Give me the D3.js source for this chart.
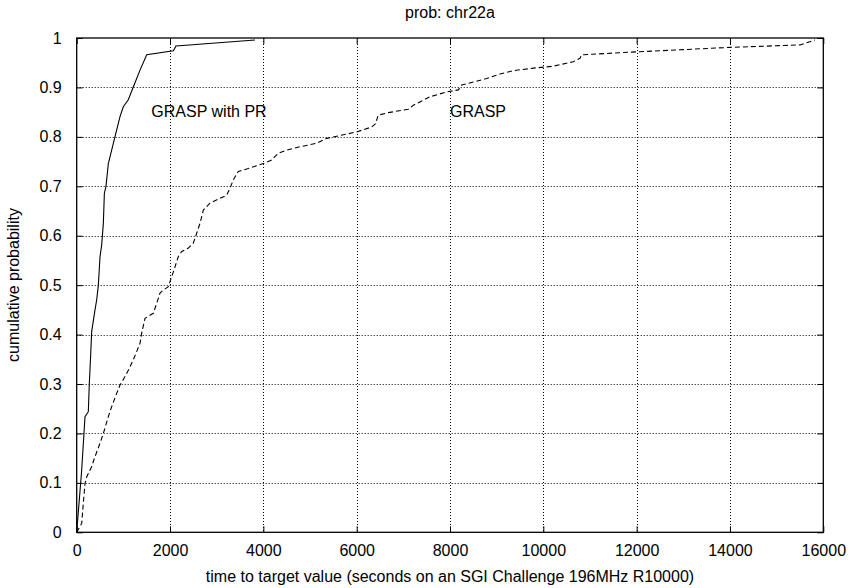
<!DOCTYPE html>
<html>
<head>
<meta charset="utf-8">
<script src="https://cdn.jsdelivr.net/npm/d3@7"></script>
<style>
  html, body { margin: 0; padding: 0; background: #fff; }
  svg { display: block; }
  text { font-family: "Liberation Sans", Arial, Helvetica, sans-serif; font-size: 16px; fill: #000; }
</style>
</head>
<body>
<svg id="chart" width="849" height="588"></svg>
<script>
// Run-time distributions (time to target, cumulative probability)
const prTimes = [0, 107, 178, 249, 270, 300, 321, 392, 428, 464, 499, 535, 571, 593, 628, 678, 785, 857, 928, 999, 1106, 1213, 1357, 1500, 2071, 2128, 3821];
const prProbs = [0, 0.126, 0.234, 0.244, 0.30, 0.36, 0.406, 0.45, 0.47, 0.50, 0.557, 0.581, 0.625, 0.686, 0.700, 0.746, 0.787, 0.814, 0.841, 0.861, 0.875, 0.901, 0.935, 0.966, 0.974, 0.984, 0.996];

const graspTimes = [0, 107, 142, 178, 214, 321, 392, 499, 571, 678, 749, 857, 928, 1035, 1106, 1213, 1356, 1393, 1464, 1642, 1714, 1785, 1856, 1963, 2035, 2107, 2178, 2250, 2392, 2499, 2571, 2642, 2714, 2856, 3213, 3285, 3356, 3463, 3678, 3999, 4178, 4320, 4499, 4785, 5143, 5357, 6000, 6321, 6400, 6464, 6678, 7107, 7214, 7571, 7928, 8178, 8250, 8500, 8785, 9071, 9357, 9785, 10213, 10499, 10642, 10785, 10820, 12000, 14000, 15500, 15820];
const graspProbs = [0, 0.018, 0.059, 0.099, 0.112, 0.133, 0.153, 0.18, 0.2, 0.234, 0.254, 0.281, 0.298, 0.315, 0.328, 0.349, 0.382, 0.403, 0.433, 0.443, 0.463, 0.484, 0.49, 0.497, 0.517, 0.537, 0.558, 0.568, 0.575, 0.585, 0.605, 0.625, 0.652, 0.666, 0.682, 0.696, 0.713, 0.73, 0.736, 0.746, 0.753, 0.767, 0.773, 0.78, 0.787, 0.797, 0.81, 0.82, 0.826, 0.844, 0.849, 0.856, 0.864, 0.881, 0.891, 0.895, 0.905, 0.911, 0.918, 0.927, 0.934, 0.939, 0.943, 0.949, 0.952, 0.959, 0.966, 0.972, 0.981, 0.986, 0.996];

const xTicks = [0, 2000, 4000, 6000, 8000, 10000, 12000, 14000, 16000];
const yTicks = [0, 0.1, 0.2, 0.3, 0.4, 0.5, 0.6, 0.7, 0.8, 0.9, 1];

const titleText = "prob: chr22a";
const xLabel = "time to target value (seconds on an SGI Challenge 196MHz R10000)";
const yLabel = "cumulative probability";
const seriesLabels = [
  { text: "GRASP with PR", t: 1600, p: 0.84 },
  { text: "GRASP", t: 8000, p: 0.84 }
];

const svg = d3.select("#chart");
const plotLeft = 76.7, plotRight = 823.3, plotTop = 38, plotBottom = 532.3;

const x = d3.scaleLinear().domain([0, 16000]).range([plotLeft, plotRight]);
const y = d3.scaleLinear().domain([0, 1]).range([plotBottom, plotTop]);

// dotted grid
const grid = svg.append("g").attr("stroke", "#000").attr("stroke-width", 1)
  .attr("stroke-dasharray", "1,2").attr("fill", "none");
xTicks.slice(1, -1).forEach(v => {
  grid.append("line").attr("x1", Math.round(x(v)) + 0.5).attr("x2", Math.round(x(v)) + 0.5)
    .attr("y1", plotTop).attr("y2", plotBottom);
});
yTicks.slice(1, -1).forEach(v => {
  grid.append("line").attr("x1", plotLeft).attr("x2", plotRight)
    .attr("y1", Math.round(y(v)) + 0.5).attr("y2", Math.round(y(v)) + 0.5);
});

// axes with inward ticks, mirrored on opposite sides
const tickLen = 6;
const xAxisB = d3.axisBottom(x).tickValues(xTicks).tickSize(-tickLen).tickPadding(tickLen + 6).tickFormat(d3.format("d"));
const xAxisT = d3.axisTop(x).tickValues(xTicks).tickSize(-tickLen).tickFormat("");
const yAxisL = d3.axisLeft(y).tickValues(yTicks).tickSize(-tickLen).tickPadding(tickLen + 9).tickFormat(d => d3.format("")(d));
const yAxisR = d3.axisRight(y).tickValues(yTicks).tickSize(-tickLen).tickFormat("");

function styleAxis(g) {
  g.select(".domain").remove();
  g.selectAll(".tick line").attr("stroke", "#000").attr("stroke-width", 1);
  g.selectAll(".tick text").style("font-family", "'Liberation Sans', Arial, sans-serif").style("font-size", "16px").attr("fill", "#000");
}

svg.append("g").attr("transform", `translate(0,${plotBottom})`).call(xAxisB).call(styleAxis)
  .selectAll(".tick text").attr("dy", "0.71em");
svg.append("g").attr("transform", `translate(0,${plotTop})`).call(xAxisT).call(styleAxis);
svg.append("g").attr("transform", `translate(${plotLeft},0)`).call(yAxisL).call(styleAxis);
svg.append("g").attr("transform", `translate(${plotRight},0)`).call(yAxisR).call(styleAxis);

// frame
svg.append("rect").attr("x", plotLeft).attr("y", plotTop).attr("width", plotRight - plotLeft).attr("height", plotBottom - plotTop)
  .attr("fill", "none").attr("stroke", "#000").attr("stroke-width", 1.3);

// curves
const line = d3.line().x(d => x(d[0])).y(d => y(d[1]));
const prData = d3.zip(prTimes, prProbs);
const graspData = d3.zip(graspTimes, graspProbs);

svg.append("path").datum(prData).attr("d", line)
  .attr("fill", "none").attr("stroke", "#000").attr("stroke-width", 1.1);
svg.append("path").datum(graspData).attr("d", line)
  .attr("fill", "none").attr("stroke", "#000").attr("stroke-width", 1.1).attr("stroke-dasharray", "5,3");

// series labels
svg.selectAll("text.series").data(seriesLabels).join("text").attr("class", "series")
  .attr("x", d => x(d.t)).attr("y", d => y(d.p)).text(d => d.text);

// titles
svg.append("text").attr("x", 450).attr("y", 18).attr("text-anchor", "middle").text(titleText);
svg.append("text").attr("x", 450).attr("y", 582).attr("text-anchor", "middle").text(xLabel);
svg.append("text").attr("transform", "translate(19,285) rotate(-90)").attr("text-anchor", "middle").text(yLabel);
</script>
</body>
</html>
